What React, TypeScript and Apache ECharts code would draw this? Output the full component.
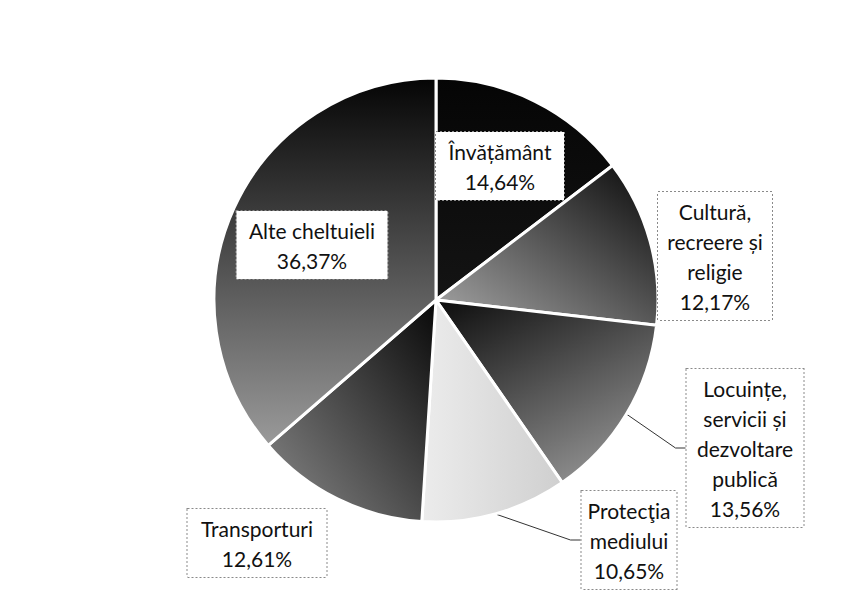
import React, { useEffect, useRef } from "react";
import * as echarts from "echarts";

const categories = [
  "Învățământ",
  "Cultură, recreere și religie",
  "Locuințe, servicii și dezvoltare publică",
  "Protecţia mediului",
  "Transporturi",
  "Alte cheltuieli",
];
const labelLines = [
  ["Învățământ"],
  ["Cultură,", "recreere și", "religie"],
  ["Locuințe,", "servicii și", "dezvoltare", "publică"],
  ["Protecţia", "mediului"],
  ["Transporturi"],
  ["Alte cheltuieli"],
];
const shares = [14.64, 12.17, 13.56, 10.65, 12.61, 36.37];

// label box centres (layout only) and widths
const labelCentres = [
  [500, 166],
  [715, 256],
  [745, 448],
  [629, 540],
  [257, 543],
  [312, 245],
];
const labelWidths = [112, 98, 101, 85, 123, 135];
const labelPadX = [8, 8, 8, 5, 8, 8];
const showLeader = [false, false, true, true, false, false];

const grad = (x: number, y: number, x2: number, y2: number, a: string, b: string) =>
  new echarts.graphic.LinearGradient(x, y, x2, y2, [
    { offset: 0, color: a },
    { offset: 1, color: b },
  ]);

const fills = [
  grad(0, 0, 0, 1, "#050505", "#141414"),
  grad(1, 0, 0, 1, "#080808", "#a8a8a8"),
  grad(0, 0, 0.6, 1, "#0c0c0c", "#8c8c8c"),
  grad(0, 0, 1, 0, "#ececec", "#cfcfcf"),
  grad(1, 0, 0, 1, "#080808", "#8a8a8a"),
  grad(0, 0, 0, 1, "#050505", "#9a9a9a"),
];

export default function App() {
  const ref = useRef<HTMLDivElement>(null);
  useEffect(() => {
    if (!ref.current) return;
    const chart = echarts.init(ref.current, undefined, { renderer: "svg" });
    chart.setOption({
      animation: false,
      backgroundColor: "#ffffff",
      series: [
        {
          type: "pie",
          center: [436, 300],
          radius: 222,
          startAngle: 90,
          clockwise: true,
          avoidLabelOverlap: false,
          itemStyle: { borderColor: "#ffffff", borderWidth: 3 },
          label: {
            show: true,
            position: "outside",
            fontFamily: "Lato, 'Open Sans', sans-serif",
            fontSize: 21,
            lineHeight: 30,
            color: "#111111",
            align: "center",
            backgroundColor: "#ffffff",
            borderColor: "#8a8a8a",
            borderWidth: 1,
            borderType: "dotted",
            overflow: "none",
            formatter: (p: any) =>
              labelLines[p.dataIndex].join("\n") +
              "\n" +
              shares[p.dataIndex].toFixed(2).replace(".", ",") +
              "%",
          },
          labelLine: {
            show: true,
            length: 10,
            length2: 10,
            lineStyle: { color: "#333333", width: 1 },
          },
          labelLayout: (params: any) => {
            const i = params.dataIndex;
            return {
              x: labelCentres[i][0],
              y: labelCentres[i][1],
              align: "center",
              verticalAlign: "middle",
            };
          },
          data: categories.map((name, i) => ({
            name,
            value: shares[i],
            itemStyle: { color: fills[i] },
            label: { width: labelWidths[i], padding: [4, labelPadX[i]] },
            labelLine: { show: showLeader[i] },
          })),
        },
      ],
    });
    return () => chart.dispose();
  }, []);
  return (
    <div
      ref={ref}
      style={{ position: "fixed", left: 0, top: 0, width: 851, height: 593 }}
    />
  );
}
